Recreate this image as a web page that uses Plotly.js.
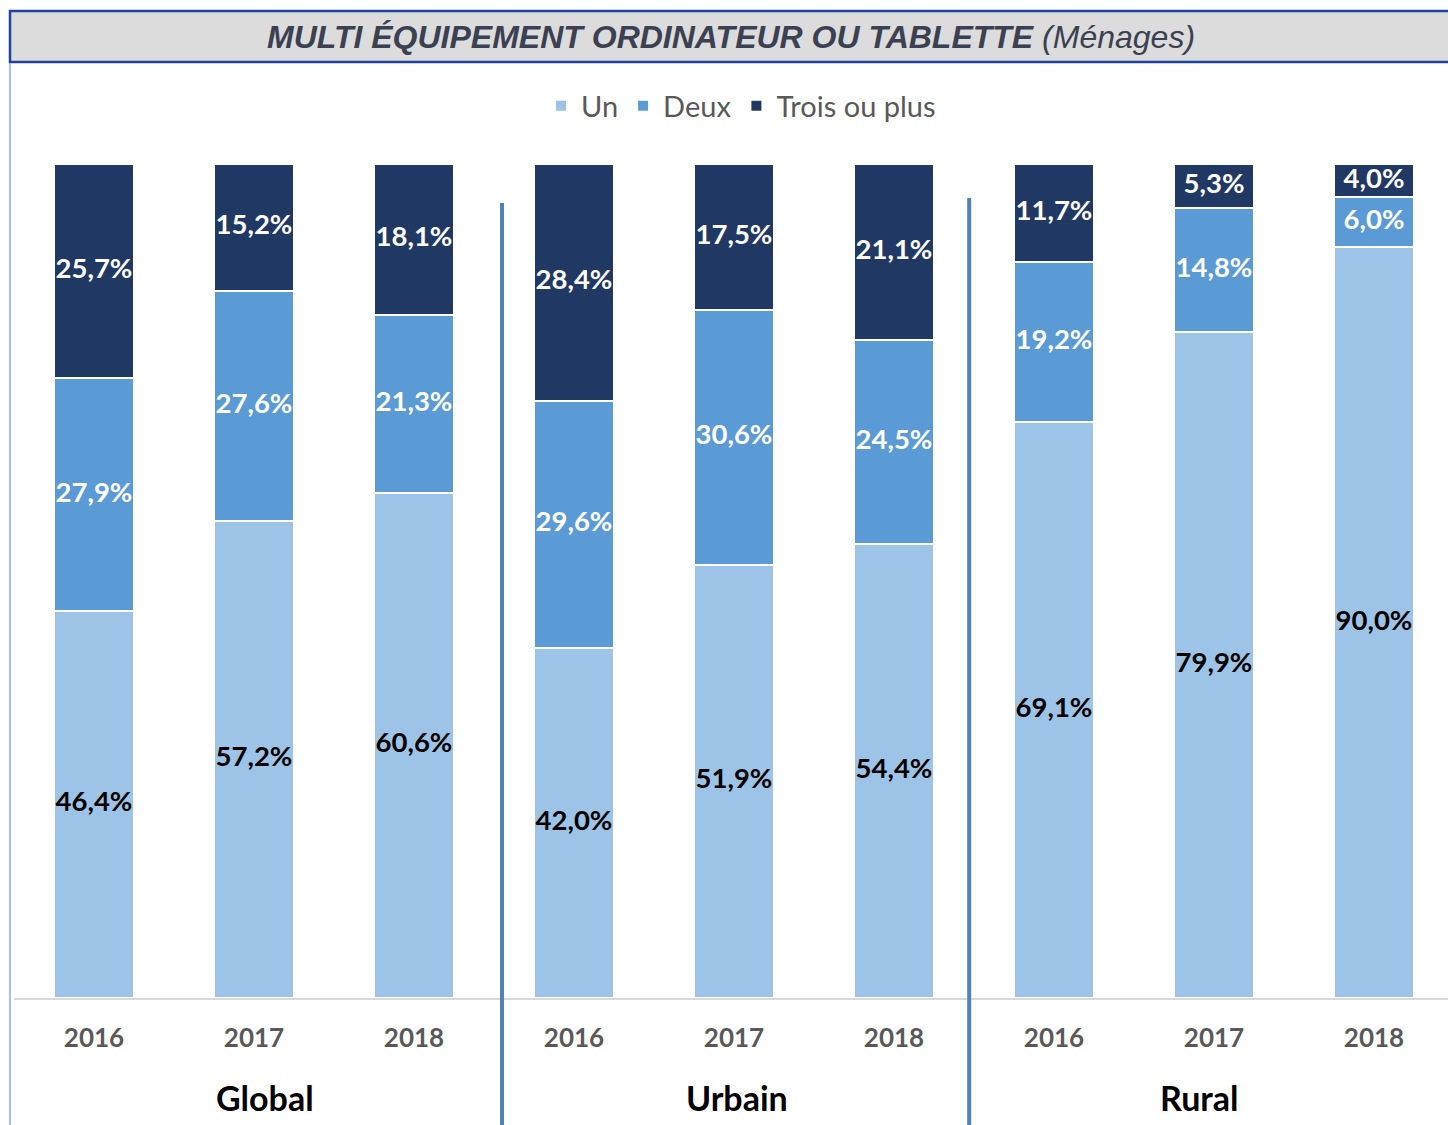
<!DOCTYPE html>
<html>
<head>
<meta charset="utf-8">
<script src="https://cdn.plot.ly/plotly-3.0.1.min.js"></script>
<style>html,body{margin:0;padding:0;background:#fff;}#chart{width:1448px;height:1125px;}</style>
</head>
<body>
<div id="chart"></div>
<script>
const groups = ['Global', 'Urbain', 'Rural'];
const years = ['2016', '2017', '2018'];
const un = [46.4, 57.2, 60.6, 42.0, 51.9, 54.4, 69.1, 79.9, 90.0];
const deux = [27.9, 27.6, 21.3, 29.6, 30.6, 24.5, 19.2, 14.8, 6.0];
const trois = [25.7, 15.2, 18.1, 28.4, 17.5, 21.1, 11.7, 5.3, 4.0];

const xs = un.map((_, i) => i);
const tickText = [];
groups.forEach(() => years.forEach(y => tickText.push('<b>' + y + '</b>')));
const fmt = v => v.toFixed(1).replace('.', ',') + '%';

const colors = {un: '#9dc3e6', deux: '#5b9bd5', trois: '#203864'};
const labelFont = 'Lato, "Open Sans", sans-serif';

function barTrace(name, vals, color) {
  return {
    type: 'bar', name: name, x: xs, y: vals,
    marker: {color: color, line: {color: '#ffffff', width: 2}},
    hoverinfo: 'skip'
  };
}
function labelTrace(vals, base, color) {
  return {
    type: 'scatter', mode: 'text', showlegend: false, hoverinfo: 'skip',
    x: xs, y: vals.map((v, i) => base[i] + v / 2),
    text: vals.map(v => '<b>' + fmt(v) + '</b>'),
    textposition: 'middle center',
    textfont: {family: labelFont, size: 27.5, color: color}
  };
}
const zero = un.map(() => 0);
const base2 = un.slice();
const base3 = un.map((v, i) => v + deux[i]);

const data = [
  barTrace('Un', un, colors.un),
  barTrace('Deux', deux, colors.deux),
  barTrace('Trois ou plus', trois, colors.trois),
  labelTrace(un, zero, '#000000'),
  labelTrace(deux, base2, '#ffffff'),
  labelTrace(trois, base3, '#ffffff')
];

const px2y = py => (998 - py) / 834;
const px2x = px => (px - 14) / 1434;

const groupX = [1.07, 4.02, 6.91];
const annotations = groups.map((g, i) => ({
  x: groupX[i], y: px2y(1097), xref: 'x', yref: 'paper', yanchor: 'middle',
  text: '<b>' + g + '</b>', showarrow: false,
  font: {family: labelFont, size: 34, color: '#000000'}
}));
annotations.push({
  xref: 'paper', yref: 'paper', x: px2x(731), y: px2y(37),
  xanchor: 'center', yanchor: 'middle', showarrow: false,
  text: '<b><i>MULTI ÉQUIPEMENT ORDINATEUR OU TABLETTE</i></b> <i>(Ménages)</i>',
  font: {family: '"Liberation Sans", Arial, sans-serif', size: 32, color: '#3b4150'}
});

const shapes = [
  {type: 'rect', xref: 'paper', yref: 'paper', x0: px2x(10), x1: px2x(1460), y0: px2y(62), y1: px2y(11),
   fillcolor: '#dcdcdc', line: {color: '#1f41a0', width: 2.5}, layer: 'below'},
  {type: 'line', xref: 'paper', yref: 'paper', x0: px2x(10), x1: px2x(10), y0: px2y(1130), y1: px2y(63),
   line: {color: '#8faadc', width: 1.5}},
  {type: 'line', xref: 'x', yref: 'paper', x0: 2.55, x1: 2.55, y0: px2y(1130), y1: px2y(203),
   line: {color: '#4f81bd', width: 4}},
  {type: 'line', xref: 'x', yref: 'paper', x0: 5.47, x1: 5.47, y0: px2y(1130), y1: px2y(198),
   line: {color: '#4f81bd', width: 4}}
];

const layout = {
  width: 1448, height: 1125,
  margin: {l: 14, r: 0, t: 164, b: 127},
  paper_bgcolor: '#ffffff', plot_bgcolor: '#ffffff',
  barmode: 'stack', bargap: 0.5,
  showlegend: true,
  legend: {orientation: 'h', x: px2x(741), xanchor: 'center', y: px2y(106), yanchor: 'middle',
    font: {family: labelFont, size: 29, color: '#595959'}, traceorder: 'normal', itemwidth: 30},
  xaxis: {range: [-0.5, 8.4625], tickvals: xs, ticktext: tickText, showgrid: false, zeroline: false,
    showline: true, linecolor: '#d9d9d9', linewidth: 2, ticks: '', ticklen: 0,
    tickfont: {family: labelFont, size: 26, color: '#595959'}, fixedrange: true,
    ticklabelstandoff: 16},
  yaxis: {range: [0, 100], visible: false, showgrid: false, zeroline: false, fixedrange: true},
  annotations: annotations,
  shapes: shapes
};

Plotly.newPlot('chart', data, layout, {staticPlot: true, displayModeBar: false});
</script>
</body>
</html>
